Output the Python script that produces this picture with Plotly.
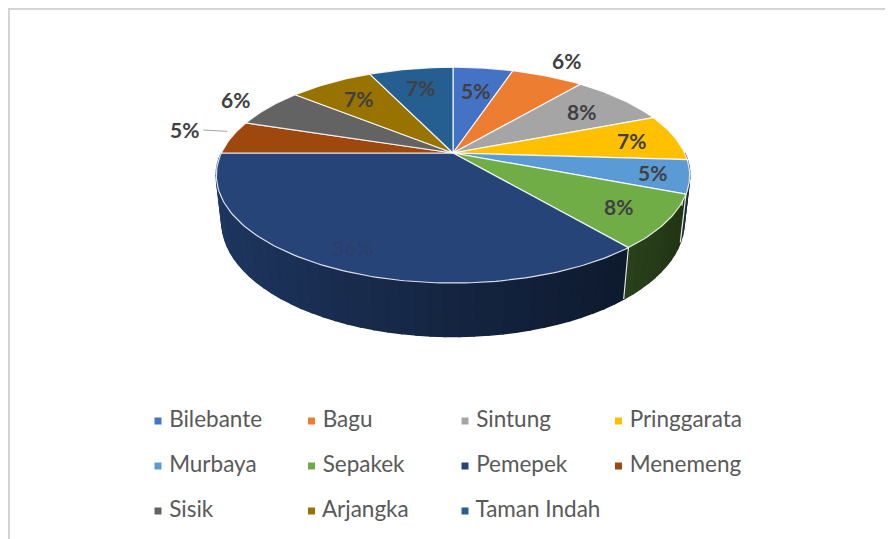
import math
import plotly.graph_objects as go

# ---------------- data ----------------
categories = ["Bilebante", "Bagu", "Sintung", "Pringgarata", "Murbaya", "Sepakek",
              "Pemepek", "Menemeng", "Sisik", "Arjangka", "Taman Indah"]
values = [5, 6, 8, 7, 5, 8, 36, 5, 6, 7, 7]

# ---------------- style ----------------
colors = ["#4472C4", "#ED7D31", "#A5A5A5", "#FFC000", "#5B9BD5", "#70AD47",
          "#264478", "#9E480E", "#636363", "#997300", "#255E91"]
label_r = [0.7, 1.25, 0.75, 0.8, 0.85, 0.8, 0.85, 1.22, 1.2, 0.75, 0.75]
label_color = ["#404040"] * 6 + ["#2b3f6c"] + ["#404040"] * 4
label_leader = [False, False, False, False, False, False, False, True, False, False, False]

W, H = 893, 539
OFF = 8                    # page body margin in the browser
CX, CY = 453, 153          # pie centre (window pixels)
F = 1010                   # focal scale
D = 4.36                   # camera distance
ELEV = math.radians(26.5)  # viewing elevation
THICK = 0.225              # pie thickness
FONT = "Lato, 'Open Sans', sans-serif"


def proj(r, t, z=0.0):
    tr = math.radians(t)
    X = r * math.cos(tr)
    Zd = r * math.sin(tr)
    yv = z * math.cos(ELEV) + Zd * math.sin(ELEV)
    d = D + Zd * math.cos(ELEV) - z * math.sin(ELEV)
    return CX + F * X / d, CY - F * yv / d


def hex_to_rgb(h):
    h = h.lstrip("#")
    return tuple(int(h[i:i + 2], 16) for i in (0, 2, 4))


def shade(hexc, f):
    r, g, b = hex_to_rgb(hexc)
    return "rgb(%d,%d,%d)" % (min(255, int(r * f)), min(255, int(g * f)), min(255, int(b * f)))


total = float(sum(values))
spans = []
cum = 0.0
for v in values:
    t0 = 90 - 360 * cum / total
    cum += v
    t1 = 90 - 360 * cum / total
    spans.append((t0, t1))

fig = go.Figure()

# ---------------- side walls ----------------
strips = []
for i, (t0, t1) in enumerate(spans):
    a = max(t1, -180.0)
    b = min(t0, 0.0)
    if a >= b:
        continue
    n = max(1, int(math.ceil((b - a) / 3.0)))
    for k in range(n):
        s0 = a + (b - a) * k / n
        s1 = a + (b - a) * (k + 1) / n
        sm = 0.5 * (s0 + s1)
        xs, ys = [], []
        m = 4
        for j in range(m + 1):
            x, y = proj(1.0, s0 + (s1 - s0) * j / m, 0.0)
            xs.append(x); ys.append(y)
        for j in range(m, -1, -1):
            x, y = proj(1.0, s0 + (s1 - s0) * j / m, -THICK)
            xs.append(x); ys.append(y)
        xs.append(xs[0]); ys.append(ys[0])
        f = 0.55 + 0.27 * (-math.cos(math.radians(sm)))
        c = shade(colors[i], f)
        strips.append((math.sin(math.radians(sm)), xs, ys, c))

strips.sort(key=lambda s: -s[0])
for _, xs, ys, c in strips:
    fig.add_trace(go.Scatter(x=xs, y=ys, mode="lines", fill="toself", fillcolor=c,
                             line=dict(color=c, width=1.6), hoverinfo="skip",
                             showlegend=False))

# boundary lines on the wall
for i, (t0, t1) in enumerate(spans):
    ttn = ((t0 + 180) % 360) - 180
    if -180 < ttn < 0:
        x0, y0 = proj(1.0, ttn, 0.0)
        x1, y1 = proj(1.0, ttn, -THICK)
        fig.add_trace(go.Scatter(x=[x0, x1], y=[y0, y1], mode="lines",
                                 line=dict(color="rgba(255,255,255,0.9)", width=1.2),
                                 hoverinfo="skip", showlegend=False))

# ---------------- top faces ----------------
for i, (t0, t1) in enumerate(spans):
    n = max(4, int(abs(t0 - t1)))
    xs, ys = [CX], [CY]
    for k in range(n + 1):
        tt = t0 + (t1 - t0) * k / n
        x, y = proj(1.0, tt, 0.0)
        xs.append(x); ys.append(y)
    xs.append(CX); ys.append(CY)
    fig.add_trace(go.Scatter(x=xs, y=ys, mode="lines", fill="toself",
                             fillcolor=colors[i],
                             line=dict(color="rgba(255,255,255,0.85)", width=1.2),
                             hoverinfo="skip", showlegend=False))

# ---------------- data labels ----------------
annotations = []
for i, (t0, t1) in enumerate(spans):
    tm = 0.5 * (t0 + t1)
    pct = "%d%%" % round(values[i] / total * 100)
    lx, ly = proj(label_r[i], tm, 0.0)
    if label_leader[i]:
        rx, ry = proj(1.0, tm, 0.0)
        ly = ly - 5
        fig.add_trace(go.Scatter(x=[lx + 19, rx - 4], y=[ly + 1, ry - 6], mode="lines",
                                 line=dict(color="#a6a6a6", width=1),
                                 hoverinfo="skip", showlegend=False))
    annotations.append(dict(x=lx, y=ly, xref="x", yref="y", text="<b>%s</b>" % pct,
                            showarrow=False,
                            font=dict(family=FONT, size=21, color=label_color[i])))

# ---------------- legend ----------------
leg_x, leg_y = [], []
for i in range(len(categories)):
    row, col = divmod(i, 4)
    leg_x.append(158 + 153.5 * col)
    leg_y.append(421 + 45 * row)
fig.add_trace(go.Scatter(x=leg_x, y=leg_y, mode="markers+text",
                         text=[" " + c for c in categories], textposition="middle right",
                         marker=dict(symbol="square", size=7, color=colors),
                         textfont=dict(family=FONT, size=22.5, color="#595959"),
                         hoverinfo="skip", showlegend=False))

# ---------------- layout ----------------
fig.update_layout(
    width=W, height=H,
    margin=dict(l=0, r=0, t=0, b=0),
    paper_bgcolor="white", plot_bgcolor="white",
    xaxis=dict(range=[OFF, W + OFF], visible=False, fixedrange=True),
    yaxis=dict(range=[H + OFF, OFF], visible=False, fixedrange=True),
    showlegend=False,
    annotations=annotations,
    shapes=[
        dict(type="line", xref="x", yref="y", x0=OFF + 1, x1=OFF + 1, y0=9, y1=H + OFF,
             line=dict(color="#d4d4d4", width=2)),
        dict(type="line", xref="x", yref="y", x0=OFF, x1=W + OFF, y0=9, y1=9,
             line=dict(color="#d4d4d4", width=2)),
    ],
)

fig.write_html("out.html")
